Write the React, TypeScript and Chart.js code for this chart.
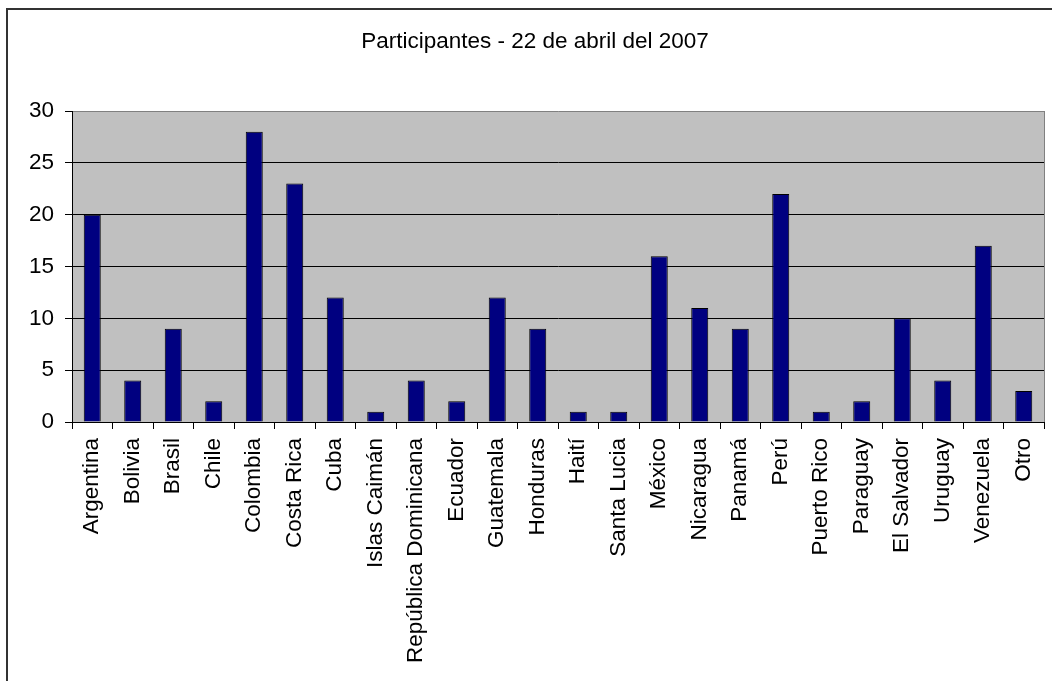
import React, { useEffect, useRef } from "react";
import { Chart, registerables } from "chart.js";

Chart.register(...registerables);

const TITLE = "Participantes - 22 de abril del 2007";
const countries = [
  "Argentina", "Bolivia", "Brasil", "Chile", "Colombia", "Costa Rica", "Cuba",
  "Islas Caimán", "República Dominicana", "Ecuador", "Guatemala", "Honduras",
  "Haití", "Santa Lucia", "México", "Nicaragua", "Panamá", "Perú",
  "Puerto Rico", "Paraguay", "El Salvador", "Uruguay", "Venezuela", "Otro",
];
const participants = [20, 4, 9, 2, 28, 23, 12, 1, 4, 2, 12, 9, 1, 1, 16, 11, 9, 22, 1, 2, 10, 4, 17, 3];
const yTicks = { min: 0, max: 30, step: 5 };

const FONT = "'Liberation Sans', Arial, sans-serif";

export default function App() {
  const ref = useRef<HTMLCanvasElement | null>(null);

  useEffect(() => {
    if (!ref.current) return;
    const framePlugin = {
      id: "frame",
      beforeDraw(chart: any) {
        const { ctx, chartArea } = chart;
        ctx.save();
        ctx.fillStyle = "#ffffff";
        ctx.fillRect(0, 0, chart.width, chart.height);
        ctx.strokeStyle = "#333333";
        ctx.lineWidth = 2;
        ctx.strokeRect(7, 9, 1100, 800);
        ctx.fillStyle = "#C0C0C0";
        ctx.fillRect(chartArea.left, chartArea.top, chartArea.right - chartArea.left, chartArea.bottom - chartArea.top);
        ctx.strokeStyle = "#808080";
        ctx.lineWidth = 1;
        ctx.beginPath();
        ctx.moveTo(chartArea.right + 0.5, chartArea.top);
        ctx.lineTo(chartArea.right + 0.5, chartArea.bottom);
        ctx.stroke();
        ctx.fillStyle = "#000";
        ctx.font = `22.5px ${FONT}`;
        ctx.textAlign = "center";
        ctx.textBaseline = "alphabetic";
        ctx.fillText(TITLE, 535, 48);
        ctx.restore();
      },
    };

    const chart = new Chart(ref.current, {
      type: "bar",
      data: {
        labels: countries,
        datasets: [
          {
            data: participants,
            backgroundColor: "#000080",
            borderColor: "#000000",
            borderWidth: 1,
            barPercentage: 0.42,
            categoryPercentage: 1,
          },
        ],
      },
      options: {
        animation: false,
        responsive: false,
        layout: { padding: { top: 111, right: 8, bottom: 0, left: 0 } },
        plugins: { legend: { display: false }, title: { display: false }, tooltip: { enabled: false } },
        scales: {
          x: {
            offset: true,
            grid: {
              offset: true,
              drawOnChartArea: false,
              drawTicks: true,
              tickLength: 7,
              tickColor: "#000",
            },
            border: { display: true, color: "#000", width: 1 },
            ticks: {
              color: "#000",
              font: { family: FONT, size: 22.5 },
              maxRotation: 90,
              minRotation: 90,
              padding: 9,
              autoSkip: false,
            },
            afterFit(scale: any) {
              scale.height = 259;
              scale.paddingLeft = 0;
              scale.paddingRight = 0;
            },
          },
          y: {
            min: yTicks.min,
            max: yTicks.max,
            ticks: {
              stepSize: yTicks.step,
              color: "#000",
              font: { family: FONT, size: 22.5 },
              padding: 11,
            },
            grid: {
              color: (c: any) => (c.tick && c.tick.value === yTicks.max ? "#808080" : "#000"),
              tickColor: "#000",
              tickLength: 7,
              lineWidth: 1,
            },
            border: { display: true, color: "#000", width: 1 },
            afterFit(scale: any) {
              scale.width = 72;
            },
          },
        },
      },
      plugins: [framePlugin],
    });
    return () => chart.destroy();
  }, []);

  return (
    <div style={{ position: "fixed", left: 0, top: 0, width: 1052, height: 681, background: "#fff" }}>
      <canvas ref={ref} width={1052} height={681} style={{ display: "block" }} />
    </div>
  );
}
